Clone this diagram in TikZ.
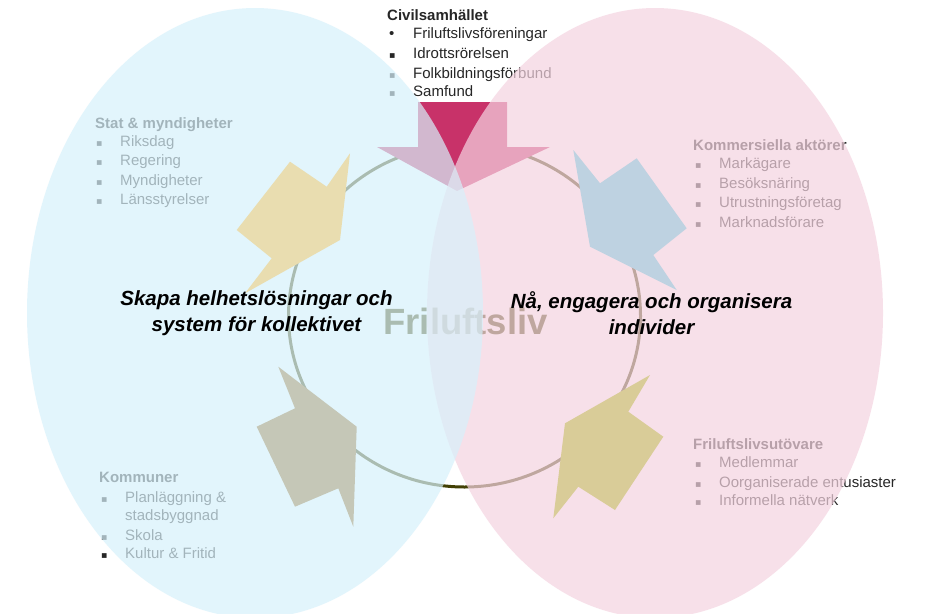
\documentclass[tikz,border=0pt]{standalone}
\usepackage{fontspec}
\setmainfont{Liberation Sans}
\newfontfamily\djv{DejaVu Sans}
\definecolor{blueE}{RGB}{215,241,251}
\definecolor{pinkE}{RGB}{245,212,225}
\definecolor{crimsonA}{RGB}{200,50,105}
\definecolor{oliveC}{RGB}{66,64,4}
\definecolor{txtC}{RGB}{38,38,38}
\definecolor{arrTL}{RGB}{233,221,176}
\definecolor{arrTR}{RGB}{190,210,225}
\definecolor{arrBL}{RGB}{197,199,183}
\definecolor{arrBR}{RGB}{217,204,152}
\tikzset{
  lbl/.style={anchor=base west, inner sep=0pt, text=txtC, font=\fontsize{15}{18}\selectfont},
  hd/.style={lbl, font=\bfseries\fontsize{15}{18}\selectfont},
  bul/.style={anchor=base west, inner sep=0pt, text=txtC, font=\djv\fontsize{9.5}{12}\selectfont},
  bigtxt/.style={align=center, inner sep=0pt, text=black, font=\bfseries\itshape\fontsize{20.5}{26}\selectfont},
  ell/.style={fill opacity=0.7},
}
\begin{document}
\begin{tikzpicture}[x=1pt,y=-1pt]
\useasboundingbox (0,0) rectangle (933,613);
\fill[white] (0,0) rectangle (933,613);
% cycle circle
\draw[oliveC, line width=3pt] (464.5,316) ellipse [x radius=176, y radius=171];
% top arrow
\fill[crimsonA] (418,102) -- (507,102) -- (507,147) -- (550,147) -- (457,191) -- (377,147) -- (418,147) -- cycle;
% big centre word
\node[anchor=base, inner sep=0pt, text=oliveC, font=\bfseries\fontsize{36.5}{40}\selectfont] (fri) at (465.5,334) {Friluftsliv};
% Civilsamhallet
\node[hd] (civ) at (387,20) {Civilsamhället};
\node[anchor=base west, inner sep=0pt, text=txtC, font=\fontsize{15}{18}\selectfont] (cb1) at (389,38) {•};
\node[lbl] (c1) at (413,38) {Friluftslivsföreningar};
\node[bul] (cb2) at (389,58) {▪};
\node[lbl] (c2) at (413,58) {Idrottsrörelsen};
\node[bul] (cb3) at (389,78) {▪};
\node[lbl] (c3) at (413,78) {Folkbildningsförbund};
\node[bul] (cb4) at (389,96) {▪};
\node[lbl] (c4) at (413,96) {Samfund};
% Stat
\node[hd] (stat) at (95,128) {Stat \& myndigheter};
\node[bul] (sb1) at (96,146) {▪}; \node[lbl] (s1) at (120,146) {Riksdag};
\node[bul] (sb2) at (96,165) {▪}; \node[lbl] (s2) at (120,165) {Regering};
\node[bul] (sb3) at (96,185) {▪}; \node[lbl] (s3) at (120,185) {Myndigheter};
\node[bul] (sb4) at (96,204) {▪}; \node[lbl] (s4) at (120,204) {Länsstyrelser};
% Kommersiella
\node[hd] (kom) at (693,150) {Kommersiella aktörer};
\node[bul] (kb1) at (695,168) {▪}; \node[lbl] (k1) at (719,168) {Markägare};
\node[bul] (kb2) at (695,188) {▪}; \node[lbl] (k2) at (719,188) {Besöksnäring};
\node[bul] (kb3) at (695,207) {▪}; \node[lbl] (k3) at (719,207) {Utrustningsföretag};
\node[bul] (kb4) at (695,227) {▪}; \node[lbl] (k4) at (719,227) {Marknadsförare};
% Friluftslivsutovare
\node[hd] (fu) at (693,449) {Friluftslivsutövare};
\node[bul] (fb1) at (695,467) {▪}; \node[lbl] (f1) at (719,467) {Medlemmar};
\node[bul] (fb2) at (695,487) {▪}; \node[lbl] (f2) at (719,487) {Oorganiserade entusiaster};
\node[bul] (fb3) at (695,505) {▪}; \node[lbl] (f3) at (719,505) {Informella nätverk};
% Kommuner
\node[hd] (kmn) at (99,482) {Kommuner};
\node[bul] (mb1) at (101,502) {▪}; \node[lbl] (m1) at (125,502) {Planläggning \&};
\node[lbl] (m1b) at (125,520) {stadsbyggnad};
\node[bul] (mb2) at (101,540) {▪}; \node[lbl] (m2) at (125,540) {Skola};
\node[bul] (mb3) at (101,558) {▪}; \node[lbl] (m3) at (125,558) {Kultur \& Fritid};
% ellipses (translucent)
\fill[pinkE, ell] (655,313) ellipse [x radius=228, y radius=305];
\fill[blueE, ell] (255,313) ellipse [x radius=228, y radius=305];
% four cycle arrows
\fill[arrTL] (236.7,230) -- (290,161.7) -- (326.7,186.7) -- (350,153.3) -- (340,240) -- (245,293.3) -- (271.7,258.3) -- cycle;
\fill[arrTR] (573.3,150) -- (600,183.3) -- (636.7,158.3) -- (686.7,228.3) -- (653.3,255) -- (676.7,290) -- (590,246.7) -- cycle;
\fill[arrBL] (278.3,366.7) -- (356.7,426.7) -- (353.3,526.7) -- (338.3,488.3) -- (295,506.7) -- (256.7,426.7) -- (295,408.3) -- cycle;
\fill[arrBR] (650,375) -- (628.3,411.7) -- (663.3,436.7) -- (615,510) -- (578.3,486.7) -- (553.3,518.3) -- (565,423.3) -- cycle;
% main statements
\node[bigtxt] (left) at (256.5,313) {Skapa helhetslösningar och\\system för kollektivet};
\node[bigtxt] (right) at (651.5,313) {Nå, engagera och organisera\\individer};
\end{tikzpicture}
\end{document}
